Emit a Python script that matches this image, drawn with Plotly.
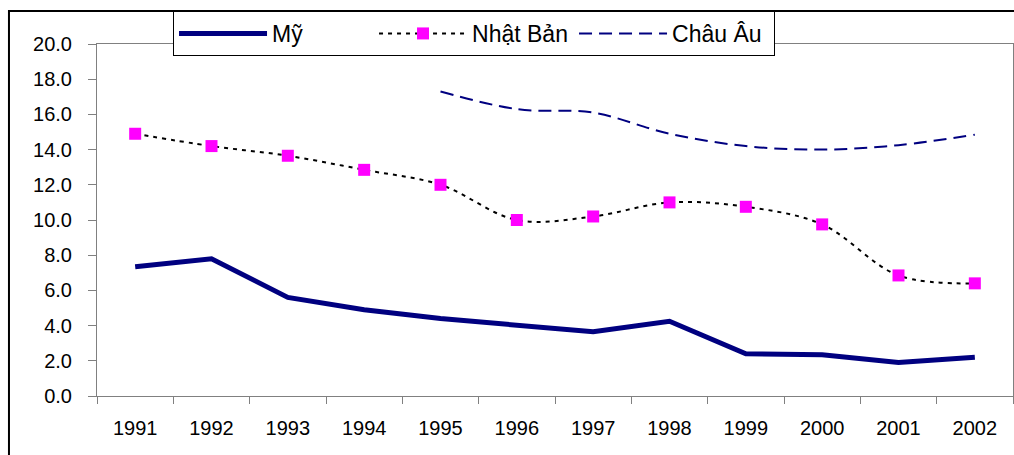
import plotly.graph_objects as go

years = ["1991", "1992", "1993", "1994", "1995", "1996",
         "1997", "1998", "1999", "2000", "2001", "2002"]
my = [7.35, 7.8, 5.6, 4.9, 4.4, 4.0, 3.65, 4.25, 2.4, 2.35, 1.9, 2.2]
nhat_ban = [14.9, 14.2, 13.65, 12.85, 12.0, 10.0, 10.2, 11.0, 10.75, 9.75, 6.85, 6.4]
chau_au = [None, None, None, None, 17.3, 16.3, 16.1, 14.9, 14.2, 14.0, 14.25, 14.85]

navy = "#000080"

fig = go.Figure()

fig.add_trace(go.Scatter(
    x=years, y=my, name="Mỹ", mode="lines",
    line=dict(color=navy, width=5),
))
fig.add_trace(go.Scatter(
    x=years, y=nhat_ban, name="Nhật Bản", mode="lines+markers",
    line=dict(color="black", width=2, dash="4px,5px", shape="spline"),
    marker=dict(symbol="square", size=12, color="#FF00FF"),
))
fig.add_trace(go.Scatter(
    x=years, y=chau_au, name="Châu Âu", mode="lines",
    line=dict(color=navy, width=2, dash="13px,7px", shape="spline"),
))

# outer chart frame (only its left and top sides are in view)
fig.add_shape(type="rect", xref="paper", yref="paper",
              x0=-0.0961, x1=1.05, y0=-0.4, y1=1.0938,
              line=dict(color="black", width=2), layer="below")

fig.update_xaxes(
    type="category", range=[-0.5, 11.5], tickson="boundaries",
    ticks="outside", ticklen=7, tickcolor="#808080",
    showline=True, linecolor="#808080", linewidth=1, mirror=True,
    showgrid=False, zeroline=False, automargin=False,
    tickfont=dict(size=20), ticklabelstandoff=14,
)
fig.update_yaxes(
    range=[0, 20], dtick=2, tickformat=".1f",
    ticks="outside", ticklen=8, tickcolor="#808080",
    showline=True, linecolor="#808080", linewidth=1, mirror=True,
    showgrid=False, zeroline=False, automargin=False,
    tickfont=dict(size=20), ticklabelstandoff=12,
)

fig.update_layout(
    width=1014, height=455,
    margin=dict(l=97, r=1, t=44, b=59),
    paper_bgcolor="white", plot_bgcolor="white",
    font=dict(family="Liberation Sans, Arial", size=20, color="black"),
    legend=dict(
        orientation="h", x=0.083, y=1.0938, xanchor="left", yanchor="top",
        bgcolor="white", bordercolor="black", borderwidth=1,
        font=dict(size=23), itemwidth=88, entrywidth=97,
    ),
)

fig.write_html("out.html", config={"displayModeBar": False},
               post_script="document.body.style.margin='0';")
